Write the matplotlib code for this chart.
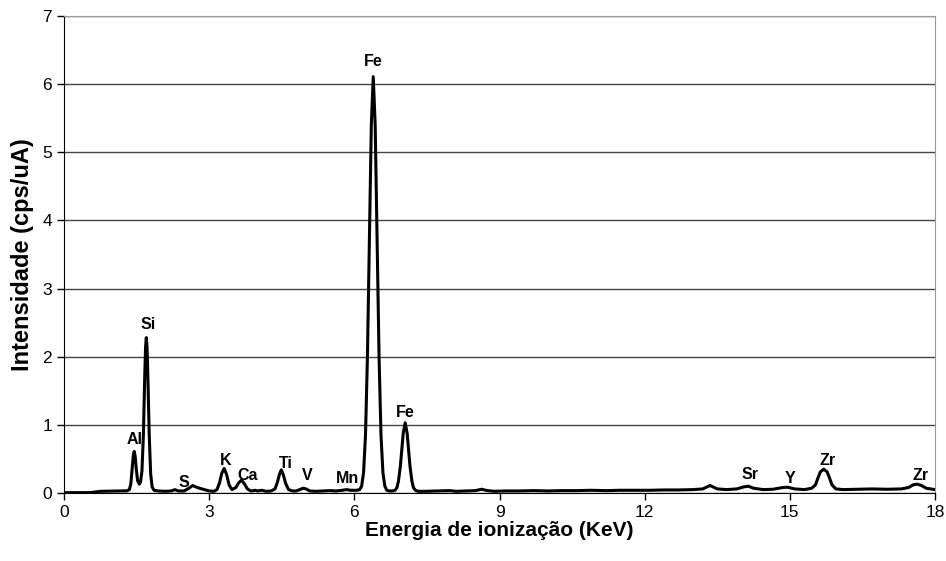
# espectro de fluorescencia de raios X (intensidade vs energia)
import matplotlib
matplotlib.use('Agg')
import matplotlib.pyplot as plt

# energia (KeV)
energia = [0.00, 0.30, 0.55, 0.65, 0.75, 1.00, 1.20, 1.30,
           1.35, 1.38, 1.41, 1.43, 1.45, 1.47, 1.49, 1.52, 1.555, 1.58,
           1.61, 1.64, 1.67, 1.685, 1.70, 1.715, 1.73, 1.76, 1.79, 1.82, 1.86, 1.95,
           2.10, 2.22, 2.29, 2.36, 2.48, 2.58, 2.66, 2.72, 2.80, 2.90, 3.00, 3.10,
           3.16, 3.21, 3.26, 3.31, 3.36, 3.41, 3.47,
           3.55, 3.61, 3.67, 3.73, 3.79, 3.86, 3.95, 4.00, 4.08, 4.18, 4.28,
           4.36, 4.41, 4.45, 4.49, 4.53, 4.58, 4.64, 4.72, 4.80,
           4.87, 4.94, 5.00, 5.08, 5.20, 5.35, 5.50, 5.62, 5.75, 5.84, 5.92, 6.05, 6.11,
           6.15, 6.19, 6.23, 6.27, 6.31, 6.35, 6.39, 6.43, 6.47, 6.51,
           6.55, 6.59, 6.63, 6.67, 6.72, 6.79,
           6.84, 6.88, 6.91, 6.95, 6.98, 7.01, 7.05, 7.09, 7.12, 7.15, 7.19, 7.22, 7.26, 7.32,
           7.50, 7.70, 7.98, 8.10, 8.30, 8.50, 8.63, 8.75, 8.90, 9.10, 9.40, 9.70,
           10.00, 10.30, 10.60, 10.90, 11.20, 11.50, 11.80, 12.10, 12.40, 12.70,
           13.00, 13.20, 13.35, 13.50, 13.70, 13.90, 14.05, 14.14, 14.25, 14.45,
           14.65, 14.85, 14.95, 15.10, 15.30, 15.45,
           15.53, 15.58, 15.63, 15.70, 15.77, 15.82, 15.87, 15.95,
           16.10, 16.40, 16.70, 17.00, 17.30, 17.45, 17.55, 17.63, 17.72, 17.82, 18.00]

# intensidade (cps/uA)
intensidade = [0.005, 0.005, 0.006, 0.015, 0.025, 0.028, 0.030, 0.032,
               0.05, 0.13, 0.38, 0.54, 0.61, 0.54, 0.37, 0.18, 0.13, 0.16,
               0.32, 0.86, 1.78, 2.14, 2.28, 2.14, 1.78, 0.86, 0.28, 0.09, 0.04, 0.03,
               0.025, 0.03, 0.05, 0.03, 0.03, 0.07, 0.11, 0.09, 0.07, 0.05, 0.03, 0.025,
               0.05, 0.14, 0.29, 0.36, 0.27, 0.12, 0.05,
               0.08, 0.15, 0.19, 0.13, 0.06, 0.03, 0.04, 0.03, 0.04, 0.025, 0.03,
               0.06, 0.16, 0.27, 0.34, 0.27, 0.14, 0.05, 0.03, 0.03,
               0.05, 0.07, 0.06, 0.03, 0.025, 0.03, 0.035, 0.03, 0.04, 0.05, 0.04, 0.04, 0.05,
               0.10, 0.30, 0.85, 2.00, 3.72, 5.40, 6.11, 5.40, 3.72, 2.00,
               0.85, 0.30, 0.10, 0.04, 0.03, 0.03,
               0.04, 0.08, 0.17, 0.39, 0.64, 0.88, 1.03, 0.88, 0.64, 0.39, 0.17, 0.08, 0.04, 0.025,
               0.025, 0.03, 0.035, 0.025, 0.03, 0.035, 0.055, 0.035, 0.025, 0.03, 0.03, 0.035,
               0.03, 0.035, 0.035, 0.04, 0.035, 0.04, 0.04, 0.04, 0.045, 0.045,
               0.05, 0.06, 0.11, 0.06, 0.05, 0.06, 0.09, 0.10, 0.07, 0.05,
               0.055, 0.08, 0.085, 0.06, 0.05, 0.07,
               0.12, 0.22, 0.31, 0.35, 0.31, 0.22, 0.12, 0.06,
               0.05, 0.055, 0.06, 0.055, 0.06, 0.08, 0.12, 0.13, 0.11, 0.07, 0.05]

# elementos identificados e posicao dos rotulos
elementos = ['Al', 'Si', 'S', 'K', 'Ca', 'Ti', 'V', 'Mn', 'Fe', 'Fe', 'Sr', 'Y', 'Zr', 'Zr']
rotulo_x = [1.45, 1.73, 2.48, 3.35, 3.80, 4.59, 5.03, 5.85, 6.39, 7.05, 14.17, 15.00, 15.78, 17.70]
rotulo_y = [0.78, 2.48, 0.15, 0.48, 0.26, 0.43, 0.25, 0.21, 6.33, 1.18, 0.27, 0.21, 0.48, 0.26]

plt.rcParams['font.family'] = ['Liberation Sans', 'DejaVu Sans']

fig = plt.figure(figsize=(9.46, 5.61), dpi=100)
ax = fig.add_axes([0.0677, 0.1212, 0.9207, 0.8503])

# linhas de grade horizontais
ax.set_axisbelow(True)
ax.grid(axis='y', color='#444444', linewidth=1.0)

# espectro
ax.plot(energia, intensidade, color='black', linewidth=2.2)

# rotulos dos picos
for nome, x, y in zip(elementos, rotulo_x, rotulo_y):
    ax.text(x, y, nome, ha='center', va='center', fontsize=11.5, fontweight='bold')

# detalhes dos eixos
ax.set_xlim(0, 18)
ax.set_ylim(0, 7)
ax.set_xticks(range(0, 19, 3))
ax.set_yticks(range(0, 8))
ax.tick_params(direction='out', length=5, labelsize=12.5, width=1)
ax.spines['top'].set_color('#999999')
ax.spines['right'].set_color('#999999')
ax.set_xlabel('Energia de ionização (KeV)', fontsize=15, fontweight='bold', labelpad=1)
ax.set_ylabel('Intensidade (cps/uA)', fontsize=17, fontweight='bold', labelpad=6)

plt.savefig('out.png', dpi=100)
